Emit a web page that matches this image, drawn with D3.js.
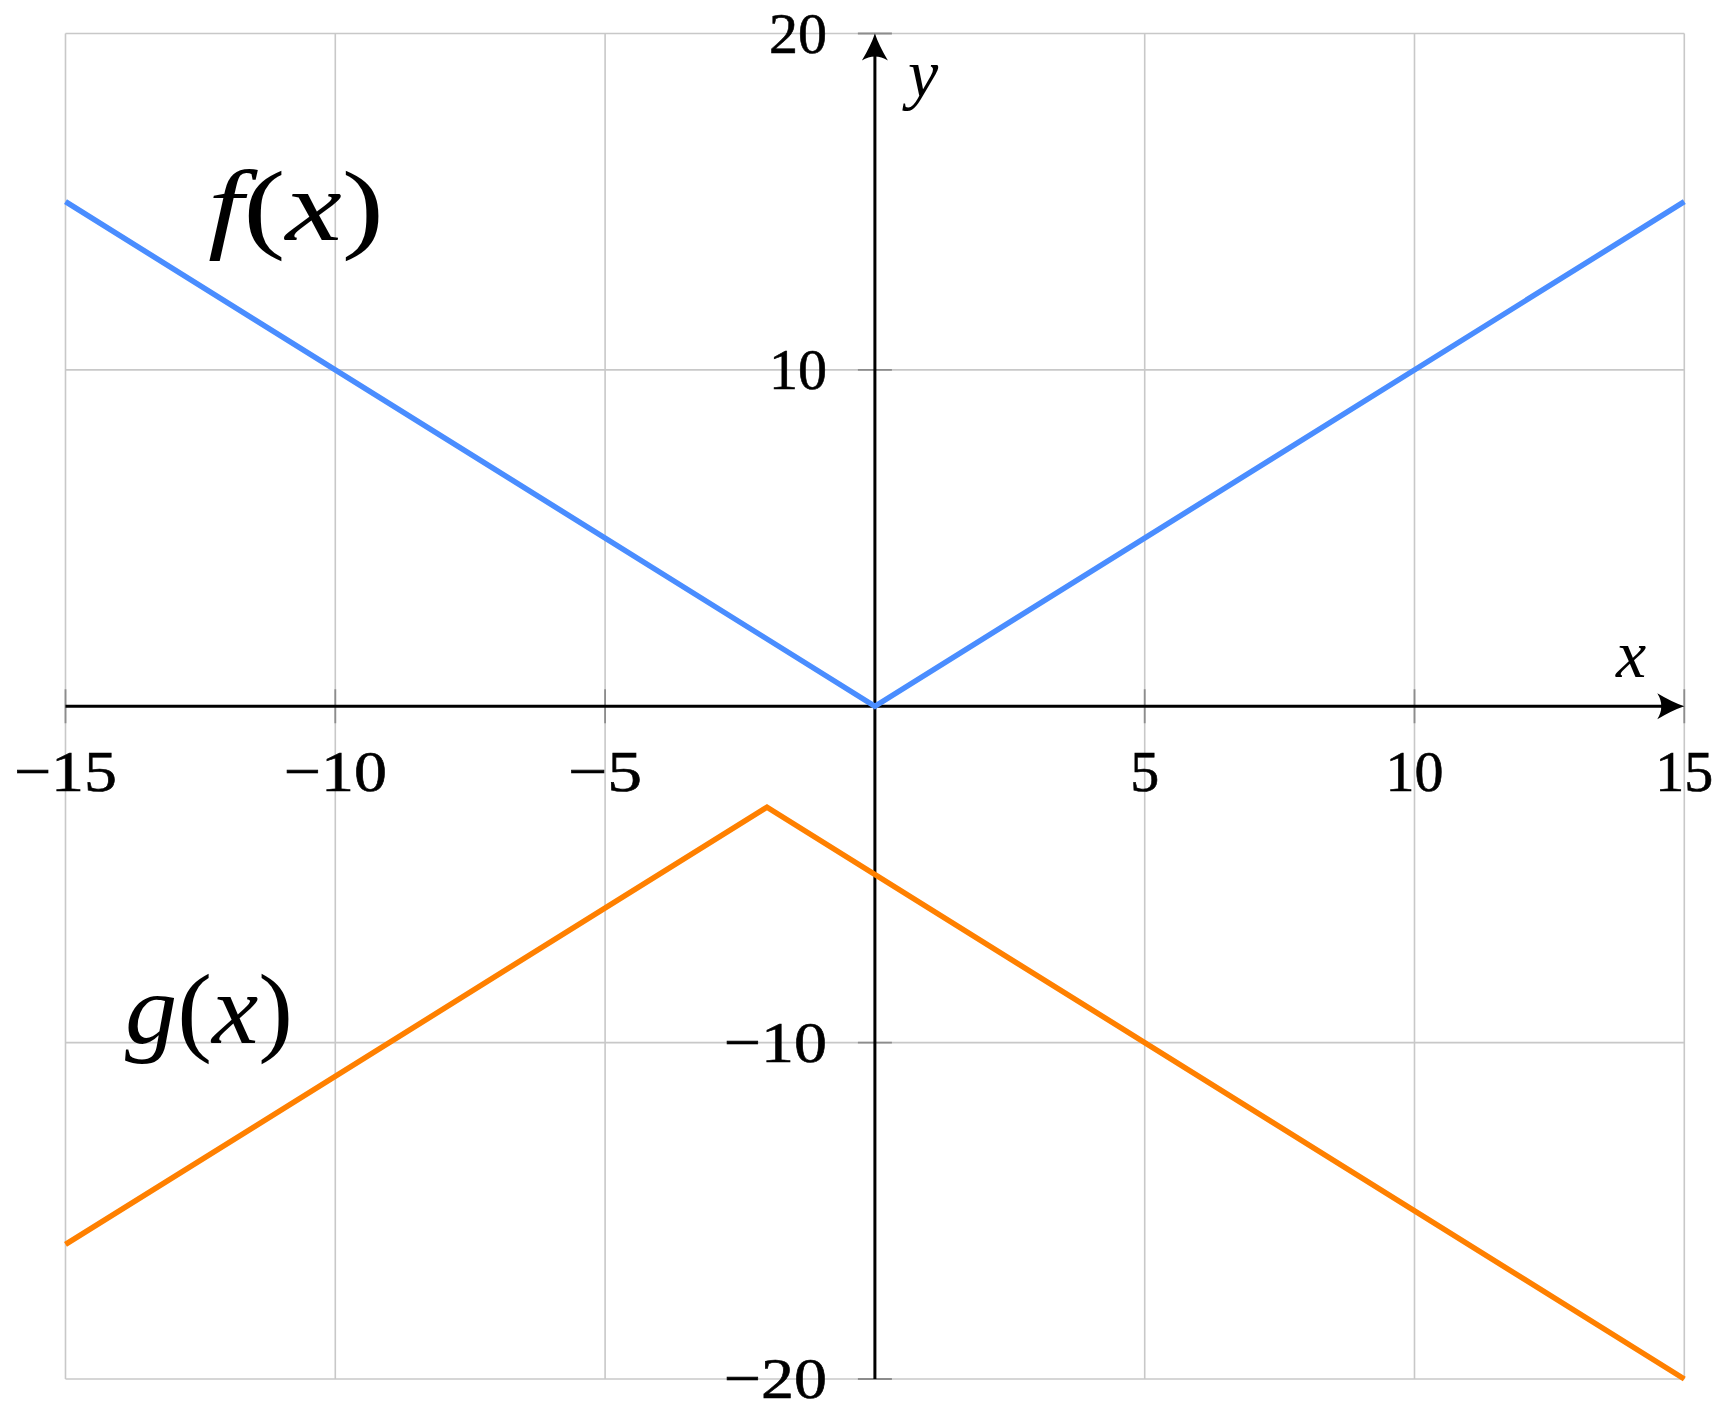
<!DOCTYPE html>
<html><head><meta charset="utf-8">
<script src="https://cdn.jsdelivr.net/npm/d3@7"></script>
<style>html,body{margin:0;padding:0;background:#fff;}</style>
</head><body>
<svg id="chart" width="1730" height="1418"></svg>
<script>
// ---- data ----
const fX = [-15, 0, 15];
const fY = [15, 0, 15];
const gX = [-15, -2, 15];
const gY = [-16, -3, -20];
const xTicks = [-15, -10, -5, 5, 10, 15];
const yTicks = [-20, -10, 10, 20];
const xGrid = [-15, -10, -5, 0, 5, 10, 15];
const yGrid = [-20, -10, 0, 10, 20];
const xTickLabels = ["\u221215", "\u221210", "\u22125", "5", "10", "15"];
const yTickLabels = ["\u221220", "\u221210", "10", "20"];
const seriesNames = ["f", "g"];
const seriesColors = ["#4a8dff", "#ff8000"];

const svg = d3.select("#chart");
const x = d3.scaleLinear().domain([-15, 15]).range([65.5, 1684.3]);
const y = d3.scaleLinear().domain([-20, 20]).range([1379, 33.5]);
const FONT = "'Liberation Serif', 'DejaVu Serif', serif";

// grid
svg.append("g").selectAll("line").data(xGrid).join("line")
  .attr("x1", d => x(d)).attr("x2", d => x(d)).attr("y1", y(20)).attr("y2", y(-20))
  .attr("stroke", "#c8c8c8").attr("stroke-width", 1.6);
svg.append("g").selectAll("line").data(yGrid).join("line")
  .attr("y1", d => y(d)).attr("y2", d => y(d)).attr("x1", x(-15)).attr("x2", x(15))
  .attr("stroke", "#c8c8c8").attr("stroke-width", 1.6);

// ticks (both sides of axes)
const T = 17;
svg.append("g").selectAll("line").data(xTicks).join("line")
  .attr("x1", d => x(d)).attr("x2", d => x(d)).attr("y1", y(0) - T).attr("y2", y(0) + T)
  .attr("stroke", "#8c8c8c").attr("stroke-width", 1.8);
svg.append("g").selectAll("line").data(yTicks).join("line")
  .attr("y1", d => y(d)).attr("y2", d => y(d)).attr("x1", x(0) - T).attr("x2", x(0) + T)
  .attr("stroke", "#8c8c8c").attr("stroke-width", 1.8);

// axes
svg.append("line").attr("x1", x(-15)).attr("x2", x(15) - 6).attr("y1", y(0)).attr("y2", y(0))
  .attr("stroke", "#000").attr("stroke-width", 3);
svg.append("line").attr("x1", x(0)).attr("x2", x(0)).attr("y1", y(-20)).attr("y2", y(20) + 6)
  .attr("stroke", "#000").attr("stroke-width", 3);
const arrow = "M0,0 Q-12,-4 -27,-13 Q-19,0 -27,13 Q-12,4 0,0 Z";
svg.append("path").attr("d", arrow).attr("transform", `translate(${x(15)},${y(0)})`).attr("fill", "#000");
svg.append("path").attr("d", arrow).attr("transform", `translate(${x(0)},${y(20)}) rotate(-90)`).attr("fill", "#000");

// curves
const line = d3.line().x(d => x(d[0])).y(d => y(d[1]));
const series = [d3.zip(fX, fY), d3.zip(gX, gY)];
svg.append("g").selectAll("path").data(series).join("path")
  .attr("d", line).attr("fill", "none")
  .attr("stroke", (d, i) => seriesColors[i]).attr("stroke-width", 5.5)
  .attr("stroke-linejoin", "miter");

// tick labels
const FS = 58;
function labelWidth(s) { // emulate CM metrics: digits 0.5em, minus 0.778em
  let w = 0; for (const c of s) w += (c === "\u2212" ? 0.778 : 0.5) * FS; return w;
}
svg.append("g").selectAll("text").data(xTicks).join("text")
  .attr("x", d => x(d)).attr("y", y(0) + 85).attr("text-anchor", "middle")
  .attr("font-family", FONT).attr("font-size", FS)
  .attr("stroke", "#000").attr("stroke-width", 0.6)
  .attr("textLength", (d, i) => labelWidth(xTickLabels[i])).attr("lengthAdjust", "spacingAndGlyphs")
  .text((d, i) => xTickLabels[i]);
svg.append("g").selectAll("text").data(yTicks).join("text")
  .attr("x", (d, i) => x(0) - 48 - labelWidth(yTickLabels[i])).attr("y", d => y(d) + 19)
  .attr("font-family", FONT).attr("font-size", FS)
  .attr("stroke", "#000").attr("stroke-width", 0.6)
  .attr("textLength", (d, i) => labelWidth(yTickLabels[i])).attr("lengthAdjust", "spacingAndGlyphs")
  .text((d, i) => yTickLabels[i]);

// axis labels
svg.append("text").attr("x", 1631).attr("y", 677).attr("text-anchor", "middle")
  .attr("font-family", FONT).attr("font-style", "italic").attr("font-size", 68).text("x");
svg.append("text").attr("x", 923).attr("y", 97).attr("text-anchor", "middle")
  .attr("font-family", FONT).attr("font-style", "italic").attr("font-size", 68).text("y");

// function labels
function fnLabel(name, px, py, w) {
  const t = svg.append("text").attr("x", px).attr("y", py)
    .attr("font-family", FONT).attr("font-size", 100)
    .attr("textLength", w).attr("lengthAdjust", "spacingAndGlyphs");
  t.append("tspan").attr("font-style", "italic").text(name);
  t.append("tspan").text("(");
  t.append("tspan").attr("font-style", "italic").text("x");
  t.append("tspan").text(")");
}
fnLabel(seriesNames[0], 208, 240, 176);
fnLabel(seriesNames[1], 125, 1043, 168);
</script>
</body></html>
